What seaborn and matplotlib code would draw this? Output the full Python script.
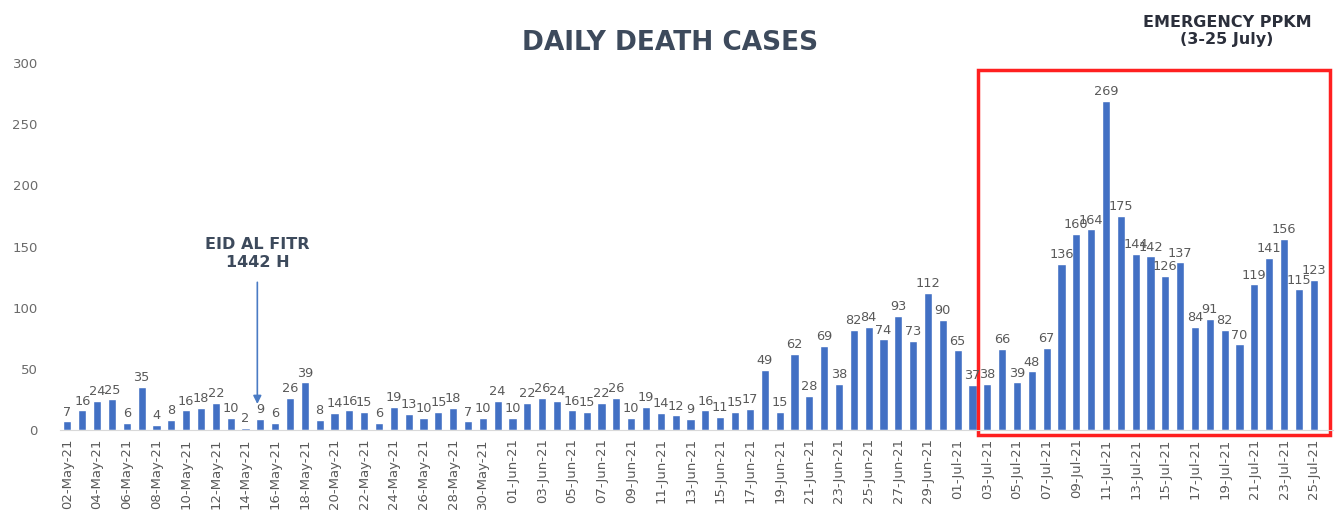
import pandas as pd
import matplotlib.pyplot as plt
import matplotlib.patches as patches
import seaborn as sns

# daily deaths, 02-May-21 .. 25-Jul-21
may = [7, 16, 24, 25, 6, 35, 4, 8, 16, 18, 22, 10, 2, 9, 6, 26, 39, 8, 14, 16,
       15, 6, 19, 13, 10, 15, 18, 7, 10, 24]
june = [10, 22, 26, 24, 16, 15, 22, 26, 10, 19, 14, 12, 9, 16, 11, 15, 17, 49, 15, 62,
        28, 69, 38, 82, 84, 74, 93, 73, 112, 90]
july = [65, 37, 38, 66, 39, 48, 67, 136, 160, 164, 269, 175, 144, 142, 126, 137, 84, 91, 82, 70,
        119, 141, 156, 115, 123]

deaths = may + june + july
dates = pd.date_range('2021-05-02', '2021-07-25', freq='D')
labels = [d.strftime('%d-%b-%y') for d in dates]
data = pd.DataFrame({'date': labels, 'deaths': deaths})

sns.set_style('white')
fig = plt.figure(figsize=(13.35, 5.3), dpi=100)
ax = fig.add_axes([60/1335, 1-430/530, 1273/1335, 367/530])

sns.barplot(data=data, x='date', y='deaths', color='#4270c4', saturation=1, width=0.55, ax=ax)
ax.bar_label(ax.containers[0], fontsize=9.3, color='#595959', padding=2)

ax.set_xlim(-0.5, 85.3)
ax.set_ylim(0, 300)
ax.set_yticks(range(0, 301, 50))
ax.set_xticks(range(0, len(labels), 2))
ax.set_xticklabels(labels[::2], rotation=90, fontsize=9.5, color='#595959')
ax.tick_params(axis='y', labelsize=9.5, labelcolor='#6a6a6a', length=0, pad=16)
ax.tick_params(axis='x', length=0, pad=6)
ax.set_xlabel('')
ax.set_ylabel('')
for s in ['top', 'right', 'left']:
    ax.spines[s].set_visible(False)
ax.spines['bottom'].set_color('#d9d9d9')

# emergency PPKM box (3-25 July)
start = labels.index('03-Jul-21')
rect = patches.Rectangle((start - 0.6, -4), 85.1 - (start - 0.6), 298, fill=False,
                         edgecolor='#ff2020', linewidth=2.5, clip_on=False)
ax.add_patch(rect)

fig.text(0.502, 0.918, 'DAILY DEATH CASES', ha='center', va='center', fontsize=19,
         fontweight='heavy', color='#3d4a5c')
fig.text(1227/1335, 1-31/530, 'EMERGENCY PPKM\n(3-25 July)', ha='center', va='center',
         fontsize=11.5, fontweight='bold', color='#2b2f3b', linespacing=1.2)

eid = labels.index('15-May-21') - 0.2
ax.annotate('', xy=(eid, 19), xytext=(eid, 123),
            arrowprops=dict(arrowstyle='-|>', color='#4a7bc4', lw=1.2, mutation_scale=12))
ax.text(eid, 131, 'EID AL FITR\n1442 H', ha='center', va='bottom', fontsize=11.5,
        fontweight='bold', color='#3d4a5c', linespacing=1.2)

plt.savefig('out.png', dpi=100)
print("done!")
